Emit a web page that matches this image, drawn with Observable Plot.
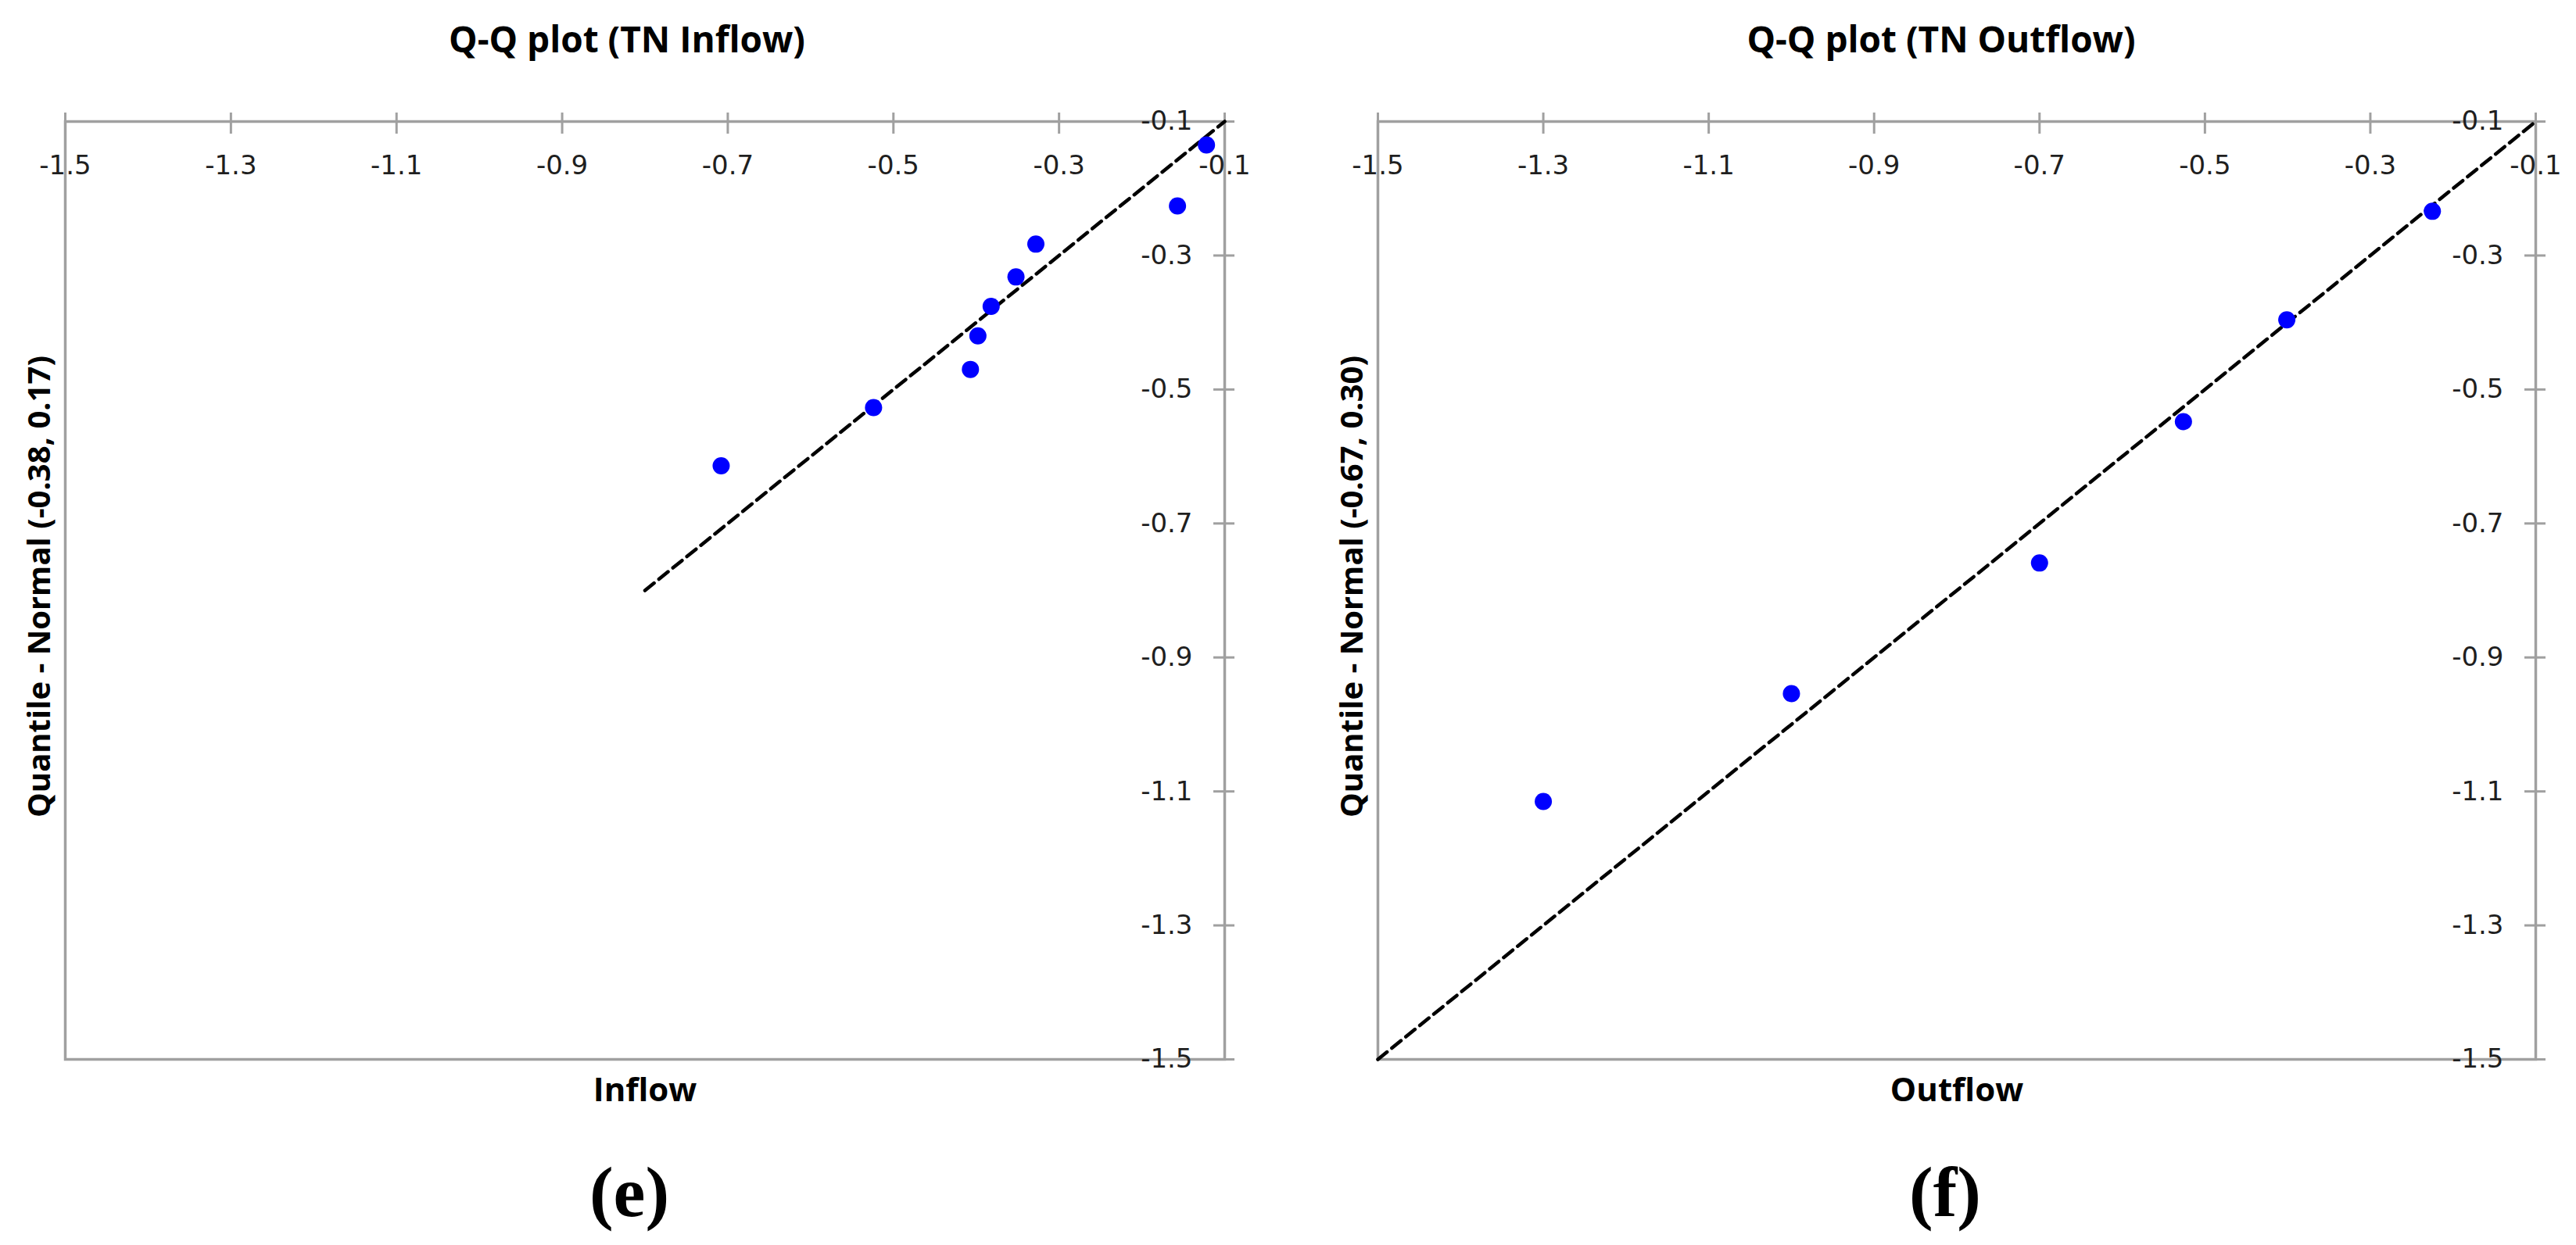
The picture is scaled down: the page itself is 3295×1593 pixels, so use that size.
<!DOCTYPE html>
<html><head><meta charset="utf-8">
<script src="https://cdn.jsdelivr.net/npm/d3@7"></script>
<script src="https://cdn.jsdelivr.net/npm/@observablehq/plot@0.6"></script>
<style>
html,body{margin:0;padding:0;background:#fff;overflow:hidden}
#wrap{display:flex;width:3295px;height:1593px}
#wrap svg{display:block;flex:none}
</style></head><body><div id="wrap"></div>
<script>
// ---- data ----
const panelTitles = ["Q-Q plot (TN Inflow)", "Q-Q plot (TN Outflow)"];
const xLabels = ["Inflow", "Outflow"];
const yLabels = ["Quantile - Normal (-0.38, 0.17)", "Quantile - Normal (-0.67, 0.30)"];
const captions = ["(e)", "(f)"];
const axisDomain = [-1.5, -0.1];
const xTicks = [-1.5, -1.3, -1.1, -0.9, -0.7, -0.5, -0.3, -0.1];
const yTicks = [-1.5, -1.3, -1.1, -0.9, -0.7, -0.5, -0.3, -0.1];

const inflowX = [-0.708, -0.524, -0.407, -0.398, -0.382, -0.352, -0.328, -0.157, -0.122];
const inflowY = [-0.614, -0.527, -0.470, -0.420, -0.376, -0.332, -0.283, -0.226, -0.135];
const inflowRefX = [-0.8, -0.1];
const inflowRefY = [-0.8, -0.1];

const outflowX = [-1.30, -1.00, -0.70, -0.526, -0.401, -0.225];
const outflowY = [-1.115, -0.954, -0.759, -0.548, -0.396, -0.234];
const outflowRefX = [-1.5, -0.1];
const outflowRefY = [-1.5, -0.1];

// ---- drawing ----
const GRAY = "#a0a0a0";
const TXT = "#1f1f1f";
const SANS = "'Open Sans', 'Noto Sans', sans-serif";
const TICKFONT = "'DejaVu Sans', sans-serif";
const fmt = d => d.toFixed(1);

function panel(i, xs, ys, rx, ry, lay) {
  const pts = xs.map((x, k) => ({x, y: ys[k]}));
  const ref = rx.map((x, k) => ({x, y: ry[k]}));
  return Plot.plot({
    width: lay.width,
    height: 1593,
    marginLeft: lay.ml,
    marginRight: lay.mr,
    marginTop: 155,
    marginBottom: 238,
    style: {background: "white", overflow: "visible"},
    x: {domain: axisDomain, axis: null},
    y: {domain: axisDomain, axis: null},
    marks: [
      Plot.frame({stroke: GRAY, strokeWidth: 3.5}),
      // tick marks crossing the top (x) and right (y) axis lines
      Plot.axisX({anchor: "top", ticks: xTicks, tickSize: 27, dy: 15, tickFormat: () => "", label: null, stroke: GRAY, strokeWidth: 3}),
      Plot.axisY({anchor: "right", ticks: yTicks, tickSize: 27, dx: -15, tickFormat: () => "", label: null, stroke: GRAY, strokeWidth: 3}),
      // tick labels placed inside the frame, Excel style
      Plot.axisX({anchor: "top", ticks: xTicks, tickSize: 0, tickPadding: 0, lineAnchor: "top", dy: 43,
        tickFormat: fmt, label: null, fontSize: 34, fontFamily: TICKFONT, fill: TXT}),
      Plot.axisY({anchor: "right", ticks: yTicks, tickSize: 0, tickPadding: 0, textAnchor: "end", dx: -41,
        tickFormat: fmt, label: null, fontSize: 34, fontFamily: TICKFONT, fill: TXT}),
      // reference line and points
      Plot.line(ref, {x: "x", y: "y", stroke: "black", strokeWidth: 4.5, strokeDasharray: "15,8"}),
      Plot.dot(pts, {x: "x", y: "y", r: 11, fill: "#0000ff", stroke: "none"}),
      // texts
      Plot.text([panelTitles[i]], {frameAnchor: "top", textAnchor: "middle", lineAnchor: "bottom", dy: -89, dx: lay.titleDx,
        fontSize: 46, fontWeight: "bold", fontFamily: SANS, fill: "#000"}),
      Plot.text([xLabels[i]], {frameAnchor: "bottom", textAnchor: "middle", lineAnchor: "bottom", dy: 53, dx: 0,
        fontSize: 42, fontWeight: "bold", fontFamily: SANS, fill: "#000"}),
      Plot.text([yLabels[i]], {frameAnchor: "left", textAnchor: "middle", rotate: -90, lineAnchor: "bottom", dx: -20, dy: -5,
        fontSize: 40, fontWeight: "bold", fontFamily: SANS, fill: "#000"}),
      Plot.text([captions[i]], {frameAnchor: "bottom", textAnchor: "middle", lineAnchor: "bottom", dy: 200, dx: lay.capDx,
        fontSize: 92, fontWeight: "bold", fontFamily: "'Liberation Serif', 'Times New Roman', serif", fill: "#000"})
    ]
  });
}

const wrap = document.getElementById("wrap");
wrap.appendChild(panel(0, inflowX, inflowY, inflowRefX, inflowRefY, {width: 1648, ml: 83, mr: 82, titleDx: -23, capDx: -20}));
wrap.appendChild(panel(1, outflowX, outflowY, outflowRefX, outflowRefY, {width: 1647, ml: 114, mr: 52, titleDx: -20, capDx: -15}));
</script>
</body></html>
